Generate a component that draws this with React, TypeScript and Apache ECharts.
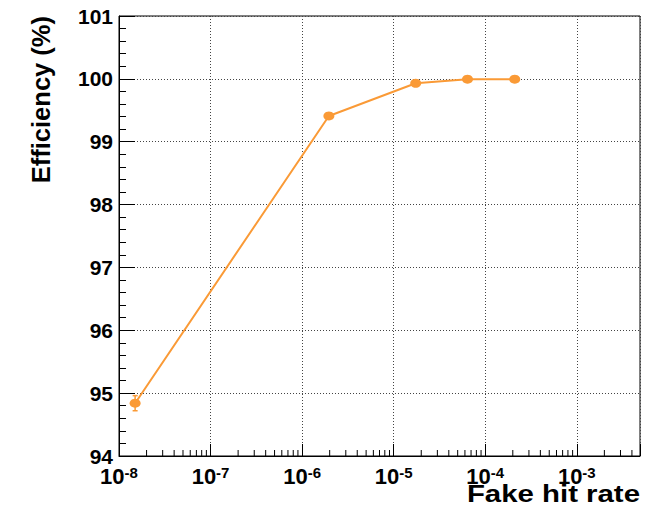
import React, { useEffect, useRef } from 'react';
import * as echarts from 'echarts';

// Data
const fakeHitRate = [1.5e-8, 1.96e-6, 1.74e-5, 6.4e-5, 2.1e-4];
const efficiency = [94.84, 99.41, 99.93, 99.995, 99.995];
const efficiencyErr = [0.12, 0.02, 0.01, 0.004, 0.004];

const xMin = 1e-8;
const xMax = 4.9e-3;
const yMin = 94;
const yMax = 101;
const yInterval = 1;
const minorDecades = [-8, -7, -6, -5, -4, -3];
const minorMultipliers = [2, 3, 4, 5, 6, 7, 8, 9];

const ORANGE = '#fa9a36';
const FONT = '"Liberation Sans", Arial, Helvetica, sans-serif';

export default function App() {
  const ref = useRef<HTMLDivElement>(null);

  useEffect(() => {
    if (!ref.current) return;
    const chart = echarts.init(ref.current, undefined, { renderer: 'svg' });

    const minorTicks: number[] = [];
    minorDecades.forEach((d) => {
      minorMultipliers.forEach((m) => {
        const v = m * Math.pow(10, d);
        if (v < xMax) minorTicks.push(v);
      });
    });

    const option: any = {
      animation: false,
      backgroundColor: '#ffffff',
      grid: {
        left: 119,
        right: 17,
        top: 16,
        bottom: 51,
        show: true,
        borderColor: '#000',
        borderWidth: 1,
        backgroundColor: 'transparent',
      },
      xAxis: {
        type: 'log',
        logBase: 10,
        min: xMin,
        max: xMax,
        axisLine: { show: true, onZero: false, lineStyle: { color: '#000', width: 1 } },
        axisTick: { show: true, inside: true, length: 12, lineStyle: { color: '#000', width: 1 } },
        splitLine: { show: true, lineStyle: { color: '#444', width: 1, type: [1, 2] } },
        axisLabel: {
          margin: 9,
          fontFamily: FONT,
          fontWeight: 'bold',
          fontSize: 22,
          color: '#000',
          formatter: (v: number) => {
            const l = Math.log10(v);
            const e = Math.round(l);
            if (Math.abs(l - e) > 1e-6) return '';
            return `{base|10}{sup|${e}}`;
          },
          rich: {
            base: { fontFamily: FONT, fontWeight: 'bold', fontSize: 22, color: '#000', lineHeight: 22, verticalAlign: 'bottom' },
            sup: { fontFamily: FONT, fontWeight: 'bold', fontSize: 15, color: '#000', lineHeight: 22, verticalAlign: 'top' },
          },
        },
      },
      yAxis: {
        type: 'value',
        min: yMin,
        max: yMax,
        interval: yInterval,
        axisLine: { show: true, onZero: false, lineStyle: { color: '#000', width: 1 } },
        axisTick: { show: true, inside: true, length: 16, lineStyle: { color: '#000', width: 1 } },
        minorTick: { show: true, splitNumber: 5, length: 7, lineStyle: { color: '#000', width: 1 } },
        splitLine: { show: true, lineStyle: { color: '#444', width: 1, type: [1, 2] } },
        axisLabel: {
          margin: 6,
          fontFamily: FONT,
          fontWeight: 'bold',
          fontSize: 21,
          color: '#000',
        },
      },
      series: [
        {
          type: 'custom',
          silent: true,
          data: minorTicks.map((v) => [v, yMin]),
          renderItem: (params: any, api: any) => {
            const p = api.coord([api.value(0), api.value(1)]);
            return {
              type: 'line',
              shape: { x1: p[0], y1: p[1], x2: p[0], y2: p[1] - 6 },
              style: { stroke: '#000', lineWidth: 1 },
            };
          },
          z: 3,
        },
        {
          type: 'custom',
          silent: true,
          data: fakeHitRate.map((x, i) => [x, efficiency[i] - efficiencyErr[i], efficiency[i] + efficiencyErr[i]]),
          renderItem: (params: any, api: any) => {
            const lo = api.coord([api.value(0), api.value(1)]);
            const hi = api.coord([api.value(0), api.value(2)]);
            const cw = 2.5;
            return {
              type: 'group',
              children: [
                { type: 'line', shape: { x1: lo[0], y1: lo[1], x2: hi[0], y2: hi[1] }, style: { stroke: ORANGE, lineWidth: 1.5 } },
                { type: 'line', shape: { x1: lo[0] - cw, y1: lo[1], x2: lo[0] + cw, y2: lo[1] }, style: { stroke: ORANGE, lineWidth: 1.5 } },
                { type: 'line', shape: { x1: hi[0] - cw, y1: hi[1], x2: hi[0] + cw, y2: hi[1] }, style: { stroke: ORANGE, lineWidth: 1.5 } },
              ],
            };
          },
          z: 4,
        },
        {
          type: 'line',
          data: fakeHitRate.map((x, i) => [x, efficiency[i]]),
          symbol: 'circle',
          symbolSize: [11, 9],
          lineStyle: { color: ORANGE, width: 2 },
          itemStyle: { color: ORANGE },
          z: 5,
        },
      ],
      graphic: [
        {
          type: 'text',
          x: 41,
          y: 16,
          rotation: Math.PI / 2,
          style: {
            text: 'Efficiency (%)',
            align: 'right',
            verticalAlign: 'middle',
            fontFamily: FONT,
            fontWeight: 'bold',
            fontSize: 25.5,
            fill: '#000',
          },
        },
        {
          type: 'text',
          x: 640,
          y: 494,
          scaleX: 1.2,
          style: {
            text: 'Fake hit rate',
            align: 'right',
            verticalAlign: 'middle',
            fontFamily: FONT,
            fontWeight: 'bold',
            fontSize: 24.5,
            fill: '#000',
          },
        },
      ],
    };

    chart.setOption(option);
    return () => chart.dispose();
  }, []);

  return (
    <div
      ref={ref}
      style={{ position: 'fixed', left: 0, top: 0, width: 657, height: 507, background: '#fff' }}
    />
  );
}
